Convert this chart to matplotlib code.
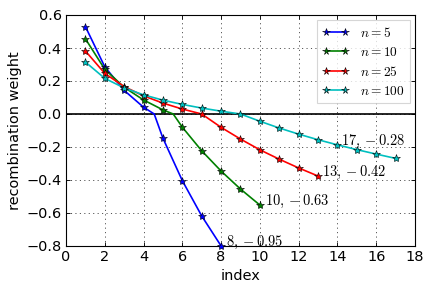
import numpy as np
import matplotlib
matplotlib.use('Agg')
import matplotlib.pyplot as plt

plt.rcParams['mathtext.fontset'] = 'cm'
plt.rcParams['font.family'] = 'DejaVu Sans'
plt.rcParams['lines.scale_dashes'] = False

# recombination weights, index starts at 1
w_n5 = [0.530, 0.286, 0.143, 0.041, -0.147, -0.404, -0.618, -0.800]
w_n10 = [0.456, 0.271, 0.162, 0.085, 0.025, -0.080, -0.223, -0.346, -0.455, -0.552]
w_n25 = [0.382, 0.246, 0.166, 0.110, 0.066, 0.030, 0.000, -0.081, -0.152,
         -0.217, -0.274, -0.327, -0.376]
w_n100 = [0.315, 0.216, 0.158, 0.116, 0.084, 0.058, 0.036, 0.017, 0.000,
          -0.044, -0.085, -0.122, -0.156, -0.187, -0.216, -0.243, -0.269]

# where each curve crosses zero (kink in the line)
zero_cross = [4.55, 5.53, 7.0, 9.0]

series_labels = ['$n = 5$', '$n = 10$', '$n = 25$', '$n = 100$']
end_labels = ['$8, -0.95$', '$10, -0.63$', '$13, -0.42$', '$17, -0.28$']
colors = ['#0000ff', '#008000', '#ff0000', '#00bfbf']
label_offsets = [(0.25, 0.0), (0.25, 0.0), (0.2, 0.0), (-2.8, 0.08)]

fig = plt.figure(figsize=(433 / 80, 293 / 80), dpi=80)
ax = fig.add_axes([66 / 433, 1 - 246 / 293, (415 - 66) / 433, (246 - 15) / 293])

ax.axhline(0, color='k', lw=1.5, zorder=1)

for w, xc, lab, col in zip([w_n5, w_n10, w_n25, w_n100], zero_cross, series_labels, colors):
    idx = np.arange(1, len(w) + 1)
    # line path: the points plus the zero crossing between them
    xs = list(idx)
    ys = list(w)
    if xc not in xs:
        k = int(np.searchsorted(idx, xc))
        xs.insert(k, xc)
        ys.insert(k, 0.0)
    ax.plot(xs, ys, color=col, lw=1.5, zorder=2, clip_on=False)
    ax.plot(idx, w, color=col, lw=0, marker='*', ms=7.5, mec='k', mew=0.5,
            zorder=3, clip_on=False)

# proxies for the legend (line with a star at both ends)
handles = [plt.Line2D([], [], color=c, lw=1.5, marker='*', ms=7, mec='k', mew=0.5)
           for c in colors]
leg = ax.legend(handles, series_labels, loc='upper right', numpoints=2,
                fontsize=12, fancybox=False, borderaxespad=0.4,
                handlelength=2.0, labelspacing=0.45, borderpad=0.4)
leg.get_frame().set_edgecolor('0.8')
leg.get_frame().set_linewidth(1.0)

for w, txt, (dx, dy) in zip([w_n5, w_n10, w_n25, w_n100], end_labels, label_offsets):
    ax.text(len(w) + dx, w[-1] + dy, txt, fontsize=13, va='baseline', ha='left')

ax.set_xlim(0, 18)
ax.set_ylim(-0.8, 0.6)
ax.set_xticks(np.arange(0, 19, 2))
ax.set_yticks(np.arange(-0.8, 0.61, 0.2))
ax.set_yticklabels(['\u22120.8', '\u22120.6', '\u22120.4', '\u22120.2', '0.0', '0.2', '0.4', '0.6'])
ax.tick_params(direction='in', top=True, right=True, labelsize=13, length=4, pad=4)
ax.grid(True, color='k', ls=(0, (1, 3)), lw=0.6)
for s in ax.spines.values():
    s.set_linewidth(1.0)

ax.set_xlabel('index', fontsize=13)
ax.set_ylabel('recombination weight', fontsize=13)

fig.savefig('out.png', dpi=80)
